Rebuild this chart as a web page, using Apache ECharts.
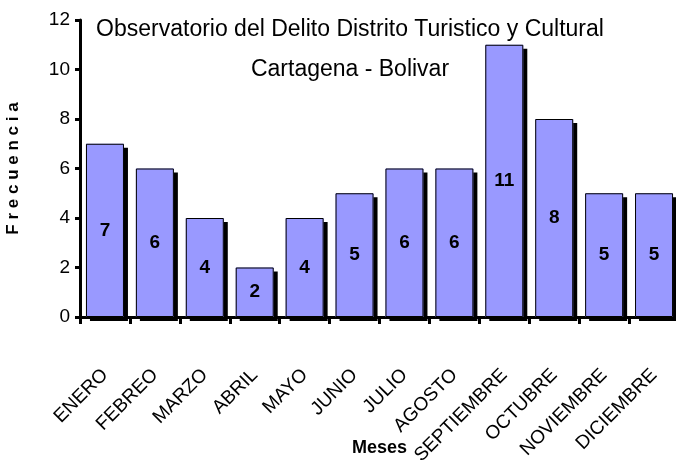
<!DOCTYPE html>
<html>
<head>
<meta charset="utf-8">
<script src="https://cdn.jsdelivr.net/npm/echarts@6/dist/echarts.min.js"></script>
<style>
  html, body { margin: 0; padding: 0; background: #fff; }
  #chart { width: 676px; height: 463px; }
</style>
</head>
<body>
<div id="chart"></div>
<script>
const meses = ["ENERO", "FEBREO", "MARZO", "ABRIL", "MAYO", "JUNIO", "JULIO",
  "AGOSTO", "SEPTIEMBRE", "OCTUBRE", "NOVIEMBRE", "DICIEMBRE"];
const frecuencia = [7, 6, 4, 2, 4, 5, 6, 6, 11, 8, 5, 5];

const fuente = "'Liberation Sans', Arial, sans-serif";

let myChart = echarts.init(document.getElementById("chart"));
myChart.setOption({
  animation: false,
  backgroundColor: "#fff",
  title: {
    text: "Observatorio del Delito Distrito Turistico y Cultural\nCartagena - Bolivar",
    left: 345,
    top: 5,
    textAlign: "center",
    textStyle: {
      fontFamily: fuente,
      fontSize: 23,
      fontWeight: "normal",
      color: "#000",
      lineHeight: 40,
    },
  },
  grid: {
    left: 80,
    right: -3,
    top: 20,
    bottom: 146,
    outerBoundsMode: "none",
  },
  xAxis: {
    type: "category",
    data: meses,
    name: "Meses",
    nameLocation: "middle",
    nameGap: 122,
    nameMoveOverlap: false,
    nameTextStyle: {
      fontFamily: fuente,
      fontSize: 18,
      fontWeight: "bold",
      color: "#000",
    },
    axisLine: { lineStyle: { color: "#000", width: 3 } },
    axisTick: { show: true, length: 7, lineStyle: { color: "#000", width: 3 } },
    axisLabel: {
      interval: 0,
      rotate: 45,
      margin: 55,
      fontFamily: fuente,
      fontSize: 19,
      color: "#000",
    },
  },
  yAxis: {
    type: "value",
    min: 0,
    max: 12,
    interval: 2,
    name: "F r e c u e n c i a",
    nameLocation: "middle",
    nameGap: 58,
    nameMoveOverlap: false,
    nameTextStyle: {
      fontFamily: fuente,
      fontSize: 17,
      fontWeight: "bold",
      color: "#000",
    },
    axisLine: { show: true, lineStyle: { color: "#000", width: 3 } },
    axisTick: { show: true, length: 5, lineStyle: { color: "#000", width: 3 } },
    axisLabel: {
      margin: 10,
      fontFamily: fuente,
      fontSize: 19,
      color: "#000",
    },
    splitLine: { show: false },
  },
  series: [
    {
      // relleno con sombra
      type: "bar",
      data: frecuencia,
      barWidth: 38,
      silent: true,
      itemStyle: {
        color: "#9999ff",
        shadowColor: "#000",
        shadowOffsetX: 4,
        shadowOffsetY: 4,
        shadowBlur: 0,
      },
    },
    {
      // borde y etiquetas
      type: "bar",
      data: frecuencia,
      barWidth: 38,
      barGap: "-100%",
      itemStyle: {
        color: "rgba(0,0,0,0)",
        borderColor: "#000",
        borderWidth: 1,
      },
      label: {
        show: true,
        position: "inside",
        fontFamily: fuente,
        fontSize: 19,
        fontWeight: "bold",
        color: "#000",
      },
    },
  ],
});
</script>
</body>
</html>
